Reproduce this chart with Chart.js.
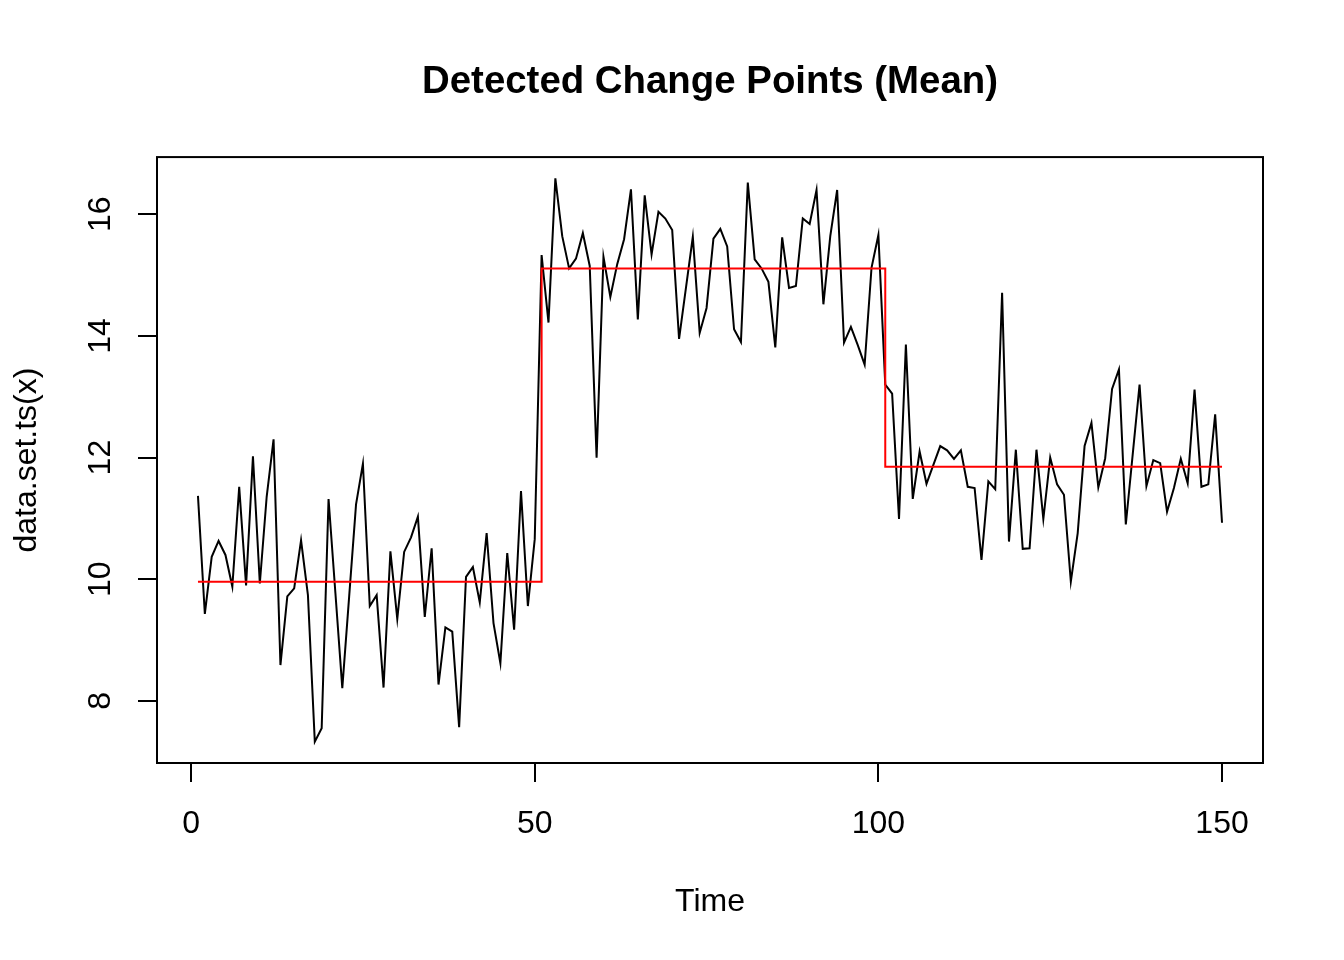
<!DOCTYPE html>
<html lang="en">
<head>
    <meta charset="UTF-8">
    <title>Detected Change Points (Mean)</title>
    <style>
        body {
            margin: 0;
            padding: 0;
            background-color: #ffffff;
        }
        #wrap {
            width: 1344px;
            height: 960px;
        }
    </style>
</head>
<body>
    <div id="wrap">
        <canvas id="myChart" width="1344" height="960"></canvas>
    </div>

    <script src="https://cdn.jsdelivr.net/npm/chart.js"></script>
    <script>
        // Series values (time = 1..150)
        const values = [
            11.37, 9.43, 10.37, 10.63, 10.40, 9.88, 11.52, 9.90, 12.02, 9.93,
            11.36, 12.30, 8.59, 9.72, 9.85, 10.64, 9.74, 7.33, 7.55, 11.32,
            9.77, 8.21, 9.72, 11.23, 11.90, 9.56, 9.74, 8.22, 10.46, 9.35,
            10.45, 10.69, 11.03, 9.38, 10.51, 8.27, 9.21, 9.14, 7.57, 10.04,
            10.20, 9.62, 10.76, 9.28, 8.62, 10.43, 9.17, 11.45, 9.56, 10.66,
            15.33, 14.22, 16.59, 15.64, 15.11, 15.27, 15.69, 15.15, 12.00, 15.30,
            14.64, 15.18, 15.59, 16.41, 14.27, 16.31, 15.34, 16.04, 15.93, 15.74,
            13.95, 14.79, 15.63, 14.05, 14.46, 15.60, 15.76, 15.47, 14.11, 13.90,
            16.52, 15.26, 15.11, 14.89, 13.81, 15.62, 14.79, 14.82, 15.93, 15.84,
            16.40, 14.52, 15.64, 16.40, 13.89, 14.15, 13.85, 13.53, 15.12, 15.66,
            13.20, 13.05, 10.99, 13.86, 11.32, 12.10, 11.57, 11.88, 12.19, 12.12,
            11.98, 12.12, 11.52, 11.50, 10.32, 11.61, 11.48, 14.71, 10.62, 12.13,
            10.50, 10.51, 12.13, 10.99, 12.00, 11.56, 11.39, 9.96, 10.76, 12.19,
            12.57, 11.51, 11.99, 13.13, 13.45, 10.90, 12.05, 13.20, 11.53, 11.96,
            11.91, 11.11, 11.50, 11.98, 11.58, 13.12, 11.52, 11.56, 12.71, 10.93
        ];

        // Detected change point segments (mean level per segment)
        const segStart = [1, 51, 101];
        const segEnd = [50, 100, 150];
        const segMean = [9.96, 15.11, 11.85];

        // Axis ticks
        const xTicks = [0, 50, 100, 150];
        const xTickLabels = ['0', '50', '100', '150'];
        const yTicks = [8, 10, 12, 14, 16];
        const yTickLabels = ['8', '10', '12', '14', '16'];

        const seriesPoints = values.map((v, i) => ({ x: i + 1, y: v }));
        const meanPoints = [];
        segMean.forEach((m, k) => {
            meanPoints.push({ x: segStart[k], y: m });
            meanPoints.push({ x: segEnd[k], y: m });
        });

        const fontFamily = "'Liberation Sans', Arial, Helvetica, sans-serif";

        // Box around the plotting region, like R's box()
        const boxPlugin = {
            id: 'box',
            afterDraw(chart) {
                const { ctx, chartArea } = chart;
                ctx.save();
                ctx.strokeStyle = '#000000';
                ctx.lineWidth = 2;
                ctx.strokeRect(chartArea.left, chartArea.top,
                    chartArea.right - chartArea.left, chartArea.bottom - chartArea.top);
                ctx.restore();
            }
        };

        const ctx = document.getElementById('myChart').getContext('2d');
        const chart = new Chart(ctx, {
            type: 'line',
            data: {
                datasets: [
                    {
                        label: 'mean',
                        data: meanPoints,
                        borderColor: '#ff0000',
                        borderWidth: 2,
                        pointRadius: 0,
                        stepped: true,
                        fill: false,
                        order: 0
                    },
                    {
                        label: 'data.set.ts(x)',
                        data: seriesPoints,
                        borderColor: '#000000',
                        borderWidth: 2,
                        pointRadius: 0,
                        tension: 0,
                        fill: false,
                        order: 1
                    }
                ]
            },
            options: {
                responsive: false,
                animation: false,
                devicePixelRatio: 1,
                layout: {
                    padding: { left: 0, right: 81, top: 0, bottom: 0 }
                },
                plugins: {
                    legend: { display: false },
                    tooltip: { enabled: false },
                    title: {
                        display: true,
                        fullSize: false,
                        text: 'Detected Change Points (Mean)',
                        color: '#000000',
                        font: { family: fontFamily, size: 38.4, weight: 'bold', lineHeight: 1.2 },
                        padding: { top: 59, bottom: 52 }
                    }
                },
                scales: {
                    x: {
                        type: 'linear',
                        min: -4.96,
                        max: 155.96,
                        afterBuildTicks(scale) {
                            scale.ticks = xTicks.map(v => ({ value: v }));
                        },
                        afterFit(scale) {
                            scale.height = 197;
                        },
                        ticks: {
                            color: '#000000',
                            font: { family: fontFamily, size: 32 },
                            padding: 23,
                            maxRotation: 0,
                            autoSkip: false,
                            callback(value) {
                                return xTickLabels[xTicks.indexOf(value)];
                            }
                        },
                        grid: {
                            drawOnChartArea: false,
                            drawTicks: true,
                            tickLength: 19,
                            color: '#000000',
                            lineWidth: 2
                        },
                        border: { display: false },
                        title: {
                            display: true,
                            text: 'Time',
                            color: '#000000',
                            font: { family: fontFamily, size: 32, lineHeight: 1.2 },
                            padding: { top: 0, bottom: 39 }
                        }
                    },
                    y: {
                        type: 'linear',
                        min: 6.98,
                        max: 16.94,
                        afterBuildTicks(scale) {
                            scale.ticks = yTicks.map(v => ({ value: v }));
                        },
                        afterFit(scale) {
                            scale.width = 157;
                        },
                        ticks: {
                            color: '#000000',
                            font: { family: fontFamily, size: 32 },
                            padding: 19,
                            minRotation: 90,
                            maxRotation: 90,
                            crossAlign: 'center',
                            autoSkip: false,
                            callback(value) {
                                return yTickLabels[yTicks.indexOf(value)];
                            }
                        },
                        grid: {
                            drawOnChartArea: false,
                            drawTicks: true,
                            tickLength: 19,
                            color: '#000000',
                            lineWidth: 2
                        },
                        border: { display: false },
                        title: {
                            display: true,
                            text: 'data.set.ts(x)',
                            color: '#000000',
                            font: { family: fontFamily, size: 32, lineHeight: 1.2 },
                            padding: { top: 8, bottom: 0 }
                        }
                    }
                }
            },
            plugins: [boxPlugin]
        });
    </script>
</body>
</html>
